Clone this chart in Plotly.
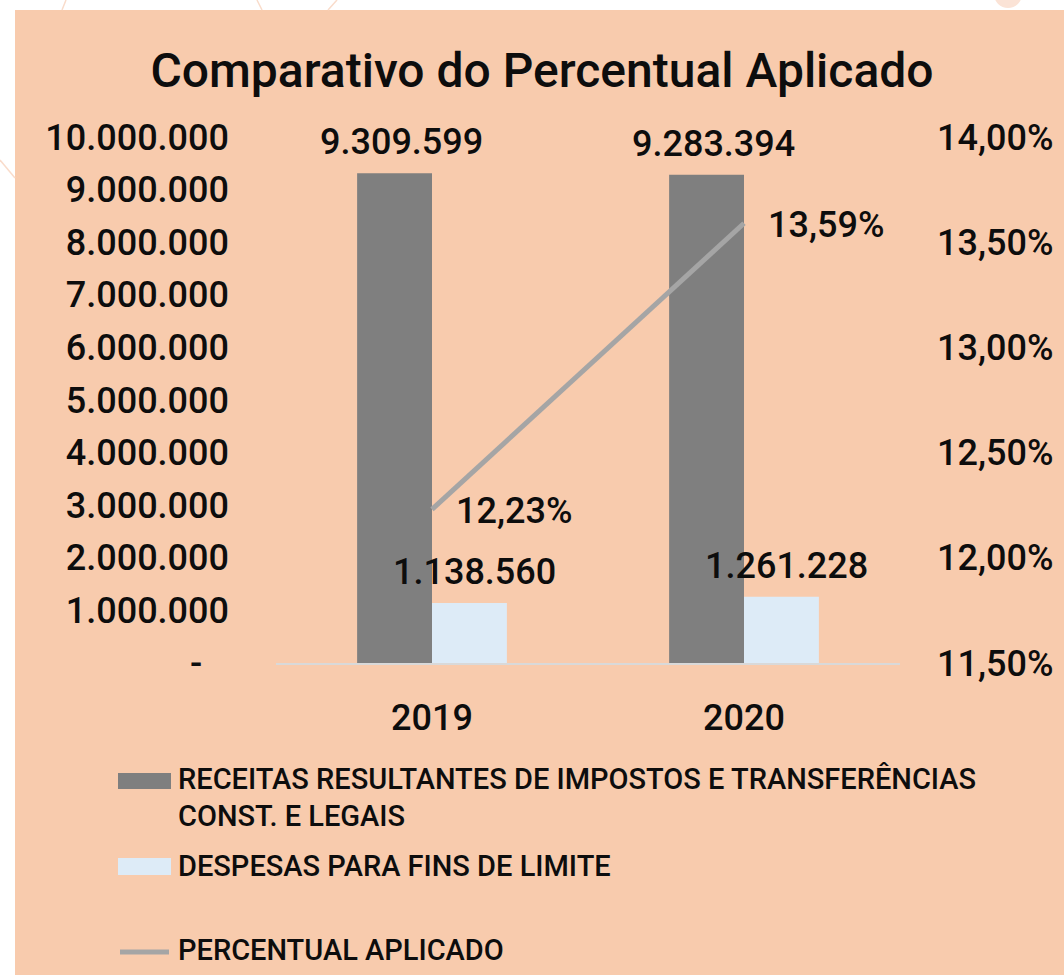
import plotly.graph_objects as go

# ---- data ----
years = ["2019", "2020"]
receitas = [9309599, 9283394]          # receitas de impostos e transferências
despesas = [1138560, 1261228]          # despesas para fins de limite
percentual = [12.23, 13.59]            # percentual aplicado (%)

left_tickvals = [0, 1e6, 2e6, 3e6, 4e6, 5e6, 6e6, 7e6, 8e6, 9e6, 10e6]
left_ticktext = ["-\u00a0\u00a0\u00a0", "1.000.000", "2.000.000", "3.000.000", "4.000.000",
                 "5.000.000", "6.000.000", "7.000.000", "8.000.000", "9.000.000",
                 "10.000.000"]
right_tickvals = [11.5, 12.0, 12.5, 13.0, 13.5, 14.0]
right_ticktext = ["11,50%", "12,00%", "12,50%", "13,00%", "13,50%", "14,00%"]

legend_names = ["RECEITAS RESULTANTES DE IMPOSTOS E TRANSFERÊNCIAS",
                "CONST. E LEGAIS",
                "DESPESAS PARA FINS DE LIMITE",
                "PERCENTUAL APLICADO"]

# ---- styling ----
W, H = 1064, 975
ML, MR, MT, MB = 276, 164, 137, 312
PW, PH = W - ML - MR, H - MT - MB
PEACH = "#F8CBAD"
DARK = "#7F7F7F"
LIGHT = "#DDEBF7"
LINE = "#A5A5A5"
TXT = "#0D0D0D"
FONT = "Roboto"


def fmt_br(v):
    return f"{v:,.0f}".replace(",", ".")


def fmt_pct(v):
    return f"{v:.2f}".replace(".", ",") + "%"


def px(xp):
    return (xp - ML) / PW


def py(yp):
    return (H - MB - yp) / PH


fig = go.Figure()

fig.add_trace(go.Bar(x=years, y=receitas, name=legend_names[0],
                     marker=dict(color=DARK, line=dict(width=0)),
                     showlegend=False, hoverinfo="x+y"))
fig.add_trace(go.Bar(x=years, y=despesas, name=legend_names[2],
                     marker=dict(color=LIGHT, line=dict(width=0)),
                     showlegend=False, hoverinfo="x+y"))
fig.add_trace(go.Scatter(x=years, y=percentual, name=legend_names[3], yaxis="y2",
                         mode="lines", line=dict(color=LINE, width=5),
                         showlegend=False, hoverinfo="x+y"))

annotations = []
lab_font = dict(family=FONT, size=36, color=TXT, weight=500)
# value labels above the bars (x given as category index)
for i, v in enumerate(receitas):
    annotations.append(dict(x=i, y=v, xref="x", yref="y", text=fmt_br(v),
                            showarrow=False, xshift=-31, yshift=31,
                            yanchor="middle", xanchor="center", font=lab_font))
for i, v in enumerate(despesas):
    annotations.append(dict(x=i, y=v, xref="x", yref="y", text=fmt_br(v),
                            showarrow=False, xshift=42, yshift=31,
                            yanchor="middle", xanchor="center", font=lab_font))
# percentage labels beside the line points
for i, v in enumerate(percentual):
    annotations.append(dict(x=i, y=v, xref="x", yref="y2", text=fmt_pct(v),
                            showarrow=False, xshift=22, yshift=-2,
                            yanchor="middle", xanchor="left", font=lab_font))

# legend text
leg_font = dict(family=FONT, size=29, color=TXT, weight=500)
for text, ypx in [(legend_names[0], 779), (legend_names[1], 816),
                  (legend_names[2], 866), (legend_names[3], 950)]:
    annotations.append(dict(x=px(176), y=py(ypx), xref="paper", yref="paper",
                            text=text, showarrow=False, xanchor="left",
                            yanchor="middle", font=leg_font))

shapes = [
    # peach panel
    dict(type="rect", xref="paper", yref="paper", x0=px(15), x1=px(W + 20),
         y0=py(H + 20), y1=py(10), fillcolor=PEACH, line=dict(width=0),
         layer="below"),
    # decorative circle and strokes on the white border
    dict(type="circle", xref="paper", yref="paper", x0=px(994), x1=px(1022),
         y0=py(8), y1=py(-20), fillcolor="#FBE3D6", line=dict(width=0),
         layer="below"),
    dict(type="line", xref="paper", yref="paper", x0=px(66), y0=py(0),
         x1=px(62), y1=py(10), line=dict(color="#F9DCCB", width=1.5), layer="below"),
    dict(type="line", xref="paper", yref="paper", x0=px(257), y0=py(0),
         x1=px(262), y1=py(10), line=dict(color="#F9DCCB", width=1.5), layer="below"),
    dict(type="line", xref="paper", yref="paper", x0=px(337), y0=py(0),
         x1=px(328), y1=py(10), line=dict(color="#F9DCCB", width=1.5), layer="below"),
    dict(type="line", xref="paper", yref="paper", x0=px(0), y0=py(160),
         x1=px(15), y1=py(178), line=dict(color="#F9DCCB", width=1.5), layer="below"),
    # legend keys
    dict(type="rect", xref="paper", yref="paper", x0=px(118), x1=px(171),
         y0=py(789), y1=py(773), fillcolor=DARK, line=dict(width=0)),
    dict(type="rect", xref="paper", yref="paper", x0=px(118), x1=px(171),
         y0=py(875), y1=py(858), fillcolor=LIGHT, line=dict(width=0)),
    dict(type="path", xref="paper", yref="paper",
         path=f"M{px(120)},{py(952)} L{px(169)},{py(952)}",
         line=dict(color=LINE, width=5)),
]

tick_font = dict(family=FONT, size=36, color=TXT, weight=500)

fig.update_layout(
    width=W, height=H,
    margin=dict(l=ML, r=MR, t=MT, b=MB, pad=0),
    paper_bgcolor="white", plot_bgcolor="rgba(0,0,0,0)",
    barmode="group", bargap=0.52, bargroupgap=0,
    separators=",.",
    title=dict(text="Comparativo do Percentual Aplicado", xref="container",
               yref="container", x=542 / W, y=1 - 70 / H, xanchor="center",
               yanchor="middle",
               font=dict(family=FONT, size=48, color=TXT, weight=500)),
    xaxis=dict(type="category", range=[-0.5, 1.5], showgrid=False,
               zeroline=False, showline=True, linecolor="#D9D9D9", linewidth=2,
               ticks="", tickfont=tick_font, ticklabelstandoff=22),
    yaxis=dict(range=[0, 10e6], tickvals=left_tickvals, ticktext=left_ticktext,
               showgrid=False, zeroline=False, showline=False, ticks="",
               tickfont=tick_font, ticklabelstandoff=46),
    yaxis2=dict(range=[11.5, 14.0], tickvals=right_tickvals,
                ticktext=right_ticktext, overlaying="y", side="right",
                showgrid=False, zeroline=False, showline=False, ticks="",
                tickfont=tick_font, ticklabelstandoff=36),
    annotations=annotations,
    shapes=shapes,
    showlegend=False,
)

fig.write_html("out.html")
